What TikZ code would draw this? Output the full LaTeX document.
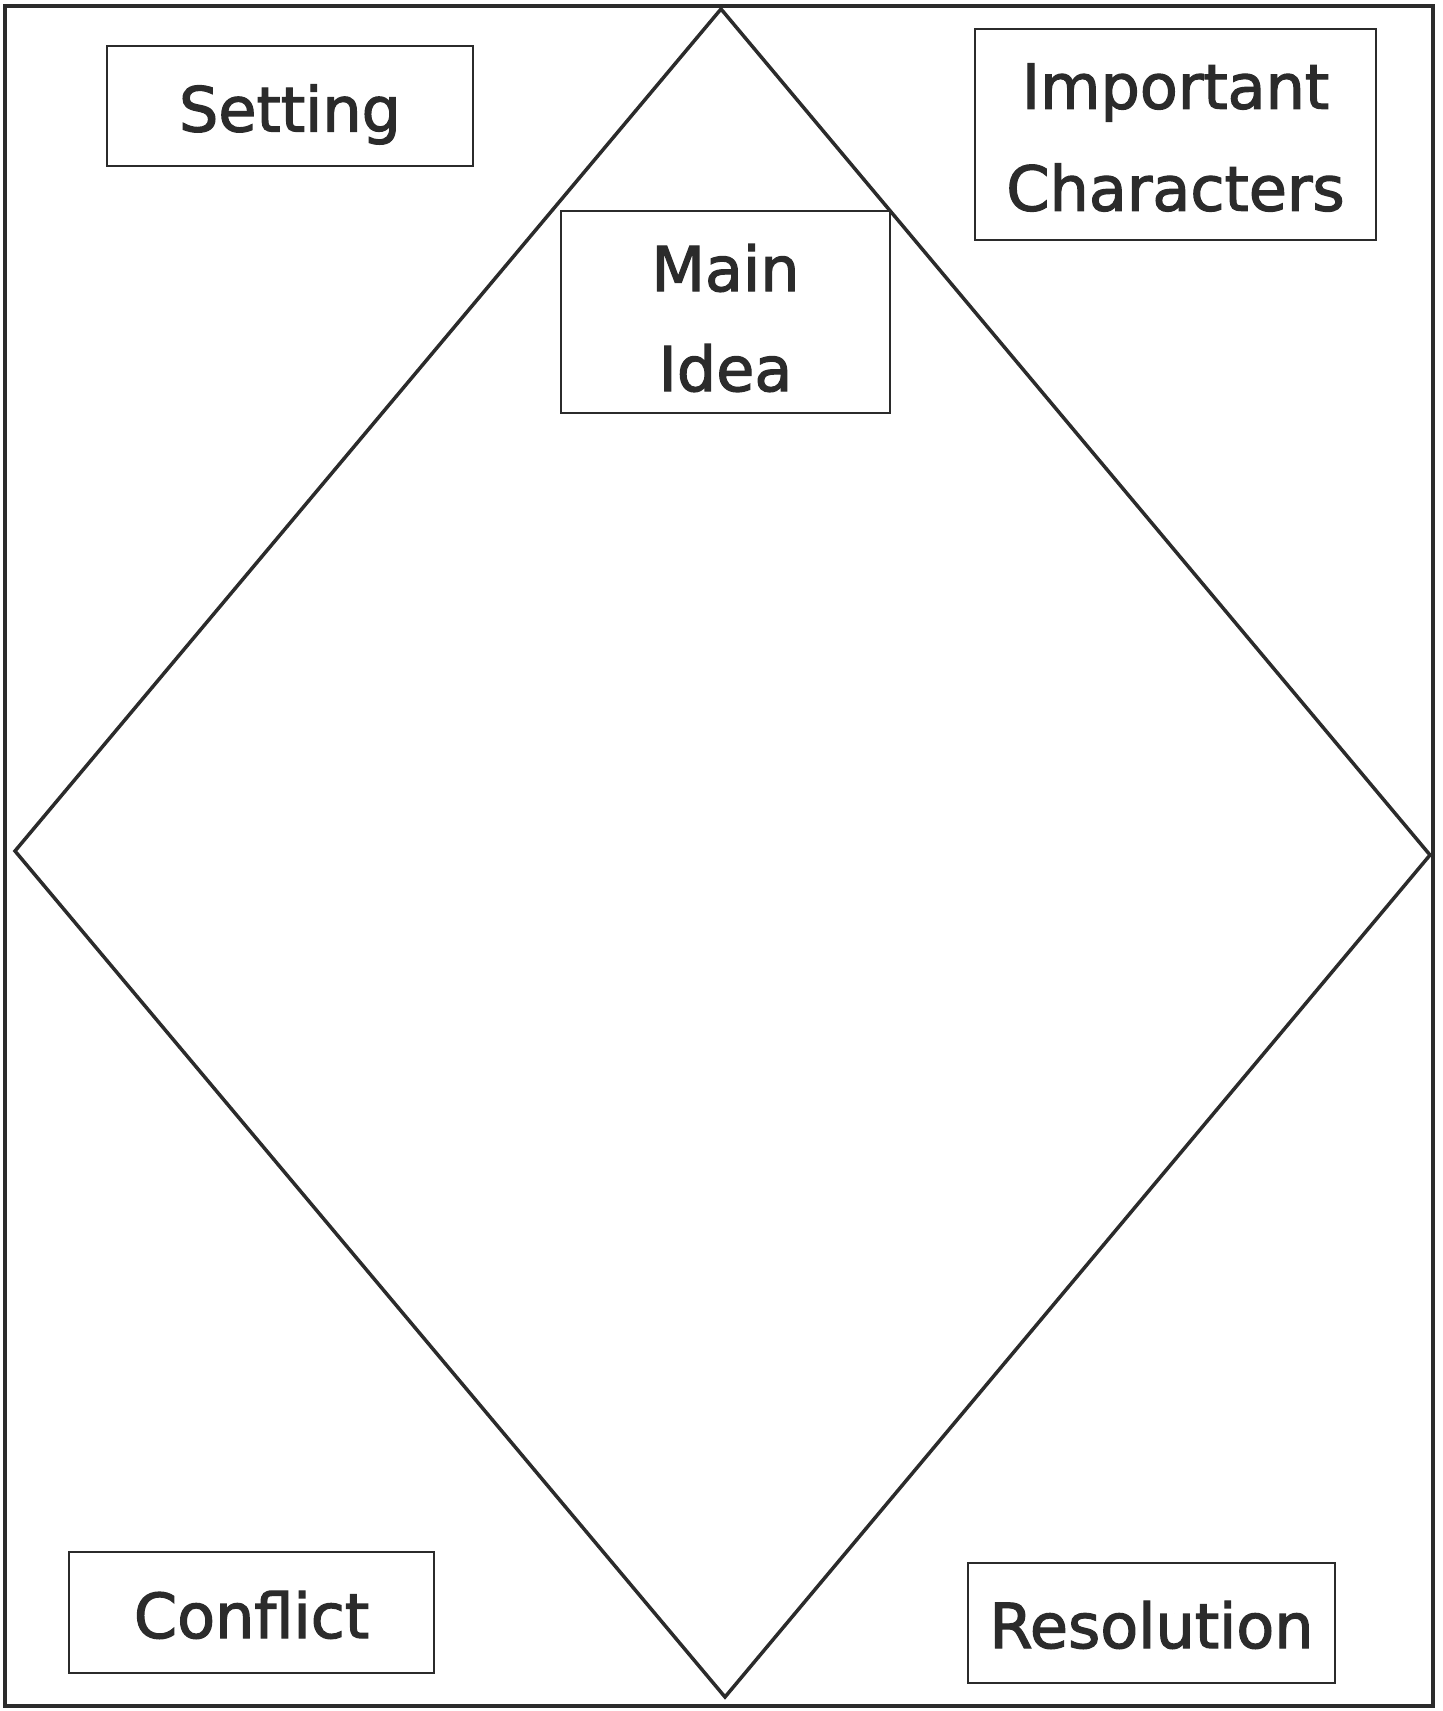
\documentclass[tikz,border=0pt]{standalone}
\usepackage{fontspec}
\setmainfont{DejaVu Sans}
\newfontfamily\handfont[FakeBold=2]{DejaVu Sans}
\usetikzlibrary{positioning}

\definecolor{ink}{HTML}{2B2B2B}
\newcommand{\lowered}[2]{\raisebox{-#1}[\height][\depth]{#2}}

\begin{document}
\begin{tikzpicture}[
    x=1pt, y=-1pt,
    box/.style={
        draw=ink,
        line width=2.2pt,
        align=center,
        text=ink,
        inner sep=0pt,
        font=\handfont\fontsize{62}{100}\selectfont
    },
    oneline/.style={
        text height=51pt,
        text depth=0pt
    },
    frame/.style={
        draw=ink,
        line width=4.5pt
    },
    kite/.style={
        draw=ink,
        line width=3.5pt,
        line join=miter
    }
]

\useasboundingbox (0,0) rectangle (1443,1711);

% Cadre
\draw[frame] (5,6) rectangle (1433,1706);

% Losange
\coordinate (top) at (721,9);
\coordinate (left) at (15,851);
\coordinate (bottom) at (725,1697);
\coordinate (right) at (1430,855);
\draw[kite] (top) -- (right) -- (bottom) -- (left) -- cycle;

% Cases
\node[box, oneline, minimum width=366, minimum height=120] (setting) at (290,106) {Setting};
\node[box, minimum width=401, minimum height=211, font=\handfont\fontsize{62}{102}\selectfont] (characters) at (1175.5,134.5) {\lowered{3pt}{Important}\\\lowered{3pt}{Characters}};
\node[box, minimum width=329, minimum height=202] (idea) at (725.5,312) {\lowered{6pt}{Main}\\\lowered{6pt}{Idea}};
\node[box, oneline, minimum width=365, minimum height=121] (conflict) at (251.5,1612.5) {Conflict};
\node[box, oneline, minimum width=367, minimum height=120, text height=50pt] (resolution) at (1151.5,1623) {Resolution};

\end{tikzpicture}
\end{document}
